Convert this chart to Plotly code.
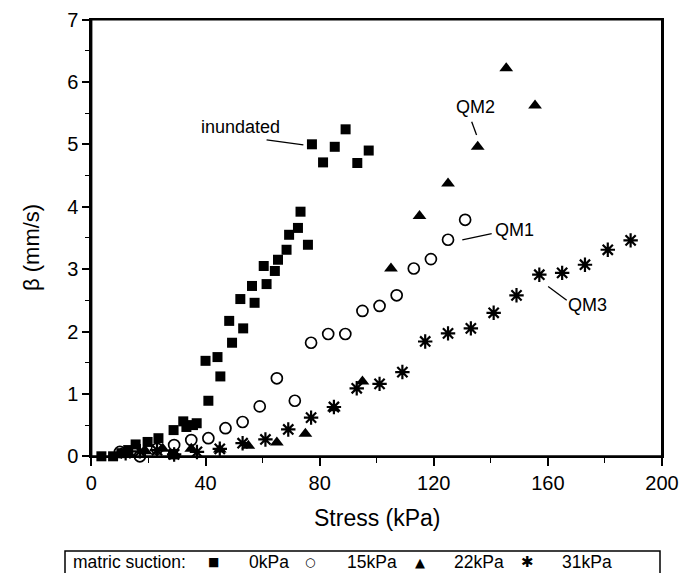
import plotly.graph_objects as go

W, H = 695, 573
# plot area in pixels
PX0, PX1 = 91.4, 662.0
PY0, PY1 = 19.5, 456.3

# ---- data (Stress kPa, beta mm/s) ----
sq_x = [3.5, 7.6, 10.5, 12.9, 15.5, 19.7, 23.5, 28.6, 28.8, 32.2, 33.3, 35.6, 36.9,
        40.0, 41.0, 44.2, 45.2, 48.3, 49.3, 52.2, 53.2, 56.3, 57.2, 60.4, 61.4, 64.3,
        65.4, 68.4, 69.3, 72.4, 73.3, 75.9,
        77.3, 81.2, 85.3, 89.1, 93.2, 97.2]
sq_y = [0.0, 0.0, 0.05, 0.10, 0.19, 0.23, 0.29, 0.03, 0.42, 0.56, 0.47, 0.50, 0.53,
        1.53, 0.89, 1.59, 1.28, 2.17, 1.82, 2.52, 2.05, 2.73, 2.46, 3.05, 2.76, 2.97,
        3.15, 3.31, 3.55, 3.66, 3.92, 3.39,
        5.00, 4.71, 4.96, 5.24, 4.70, 4.90]

ci_x = [10, 17, 23, 29, 35, 41, 47, 53, 59, 65, 71.3, 77, 83, 89, 95, 101, 107, 113,
        119, 125, 131]
ci_y = [0.07, 0.0, 0.12, 0.18, 0.26, 0.29, 0.45, 0.55, 0.80, 1.25, 0.89, 1.82, 1.96,
        1.96, 2.33, 2.41, 2.58, 3.01, 3.16, 3.47, 3.79]

tr_x = [13, 19, 25, 29, 35, 45, 55, 65, 75, 85, 95, 105, 115, 125, 135.4, 145.4, 155.5]
tr_y = [0.05, 0.08, 0.12, 0.05, 0.12, 0.11, 0.17, 0.22, 0.36, 0.77, 1.20, 3.01, 3.85,
        4.37, 4.96, 6.22, 5.62]

st_x = [12, 17, 23, 29, 37, 45, 53, 61, 69, 77, 85, 93, 101, 109, 117, 125, 133, 141,
        149, 157, 165, 173, 181, 189]
st_y = [0.05, 0.08, 0.10, 0.03, 0.07, 0.12, 0.21, 0.27, 0.43, 0.62, 0.79, 1.09, 1.16,
        1.35, 1.84, 1.97, 2.05, 2.30, 2.58, 2.91, 2.94, 3.07, 3.31, 3.46]

x_ticks = [0, 40, 80, 120, 160, 200]
y_ticks = [0, 1, 2, 3, 4, 5, 6, 7]

legend_title = "matric suction:"
legend_labels = ["0kPa", "15kPa", "22kPa", "31kPa"]
legend_glyphs = ["■", "○", "▲", "✱"]

FONT = "Liberation Sans, Arial, sans-serif"


def px(xp):
    return xp / W


def py(yp):
    return 1 - yp / H


fig = go.Figure()
fig.add_trace(go.Scatter(x=sq_x, y=sq_y, mode="markers",
                         marker=dict(symbol="square", size=10, color="black"),
                         showlegend=False, cliponaxis=False))
fig.add_trace(go.Scatter(x=ci_x, y=ci_y, mode="markers",
                         marker=dict(symbol="circle-open", size=11, color="black",
                                     line=dict(width=1.7, color="black")),
                         showlegend=False, cliponaxis=False))
fig.add_trace(go.Scatter(x=tr_x, y=tr_y, mode="markers",
                         marker=dict(symbol="triangle-up", size=12, color="black"),
                         showlegend=False, cliponaxis=False))
fig.add_trace(go.Scatter(x=st_x, y=st_y, mode="markers",
                         marker=dict(symbol="asterisk-open", size=12, color="black",
                                     line=dict(width=2.2, color="black")),
                         showlegend=False, cliponaxis=False))

xaxis = dict(range=[0, 200], tickmode="array", tickvals=x_ticks,
             domain=[px(PX0), px(PX1)],
             showline=True, linewidth=2, linecolor="black", mirror=True,
             showgrid=False, zeroline=False, ticks="outside", tickcolor="black",
             tickwidth=1.5, ticklen=8,
             tickfont=dict(family=FONT, size=20, color="black"),
             minor=dict(tickmode="linear", tick0=0, dtick=20, ticks="outside",
                        ticklen=5, tickwidth=1.2, tickcolor="black", showgrid=False))
yaxis = dict(range=[0, 7], tickmode="array", tickvals=y_ticks,
             domain=[py(PY1), py(PY0)],
             showline=True, linewidth=2, linecolor="black", mirror=True,
             showgrid=False, zeroline=False, ticks="outside", tickcolor="black",
             tickwidth=1.5, ticklen=7,
             tickfont=dict(family=FONT, size=20, color="black"),
             minor=dict(tickmode="linear", tick0=0, dtick=0.5, ticks="outside",
                        ticklen=4, tickwidth=1.2, tickcolor="black", showgrid=False))

ann = []
# axis titles
ann.append(dict(text="Stress (kPa)", xref="paper", yref="paper", x=px(377), y=py(518),
                showarrow=False, font=dict(family=FONT, size=23, color="black"),
                xanchor="center", yanchor="middle"))
ann.append(dict(text="β (mm/s)", xref="paper", yref="paper", x=px(31), y=py(248),
                showarrow=False, textangle=-90,
                font=dict(family=FONT, size=22, color="black"),
                xanchor="center", yanchor="middle"))

# in-plot labels
labels = [("inundated", 52.1, 5.28), ("QM2", 134.7, 5.60), ("QM1", 148.2, 3.63),
          ("QM3", 173.8, 2.42)]
for t, lx, ly in labels:
    ann.append(dict(text=t, x=lx, y=ly, xref="x", yref="y", showarrow=False,
                    font=dict(family=FONT, size=18, color="black"),
                    xanchor="center", yanchor="middle"))

shapes = []
leader_lines = [(61.4, 5.07, 74.3, 4.99), (133.3, 5.36, 135.0, 5.15),
                (130.0, 3.47, 140.3, 3.57), (160.1, 2.72, 166.6, 2.50)]
for x0, y0, x1, y1 in leader_lines:
    shapes.append(dict(type="line", xref="x", yref="y", x0=x0, y0=y0, x1=x1, y1=y1,
                       line=dict(color="black", width=1.3)))

# frame
shapes.append(dict(type="rect", xref="x domain", yref="y domain", x0=0, x1=1, y0=0,
                   y1=1, line=dict(color="black", width=2), fillcolor="rgba(0,0,0,0)",
                   layer="above"))

# legend box
shapes.append(dict(type="rect", xref="paper", yref="paper", x0=px(65), x1=px(660),
                   y0=py(551), y1=py(590), line=dict(color="black", width=1.5),
                   fillcolor="rgba(0,0,0,0)"))
ly = py(562)
ann.append(dict(text=legend_title, xref="paper", yref="paper", x=px(71), y=ly,
                showarrow=False, xanchor="left", yanchor="middle",
                font=dict(family=FONT, size=17.5, color="black")))
glyph_x = [213, 310, 420, 527]
label_x = [247, 345, 452, 560]
glyph_sizes = [12, 12, 13, 15]
for g, gx, gs, lab, lx in zip(legend_glyphs, glyph_x, glyph_sizes, legend_labels, label_x):
    ann.append(dict(text=g, xref="paper", yref="paper", x=px(gx), y=ly, showarrow=False,
                    xanchor="center", yanchor="middle",
                    font=dict(family="DejaVu Sans", size=gs, color="black")))
    ann.append(dict(text=lab, xref="paper", yref="paper", x=px(lx), y=ly, showarrow=False,
                    xanchor="left", yanchor="middle",
                    font=dict(family=FONT, size=17.5, color="black")))

fig.update_layout(template="none", width=W, height=H,
                  margin=dict(l=0, r=0, t=0, b=0, pad=0),
                  paper_bgcolor="white", plot_bgcolor="white",
                  xaxis=xaxis, yaxis=yaxis,
                  annotations=ann, shapes=shapes, showlegend=False)

fig.write_html("out.html")
